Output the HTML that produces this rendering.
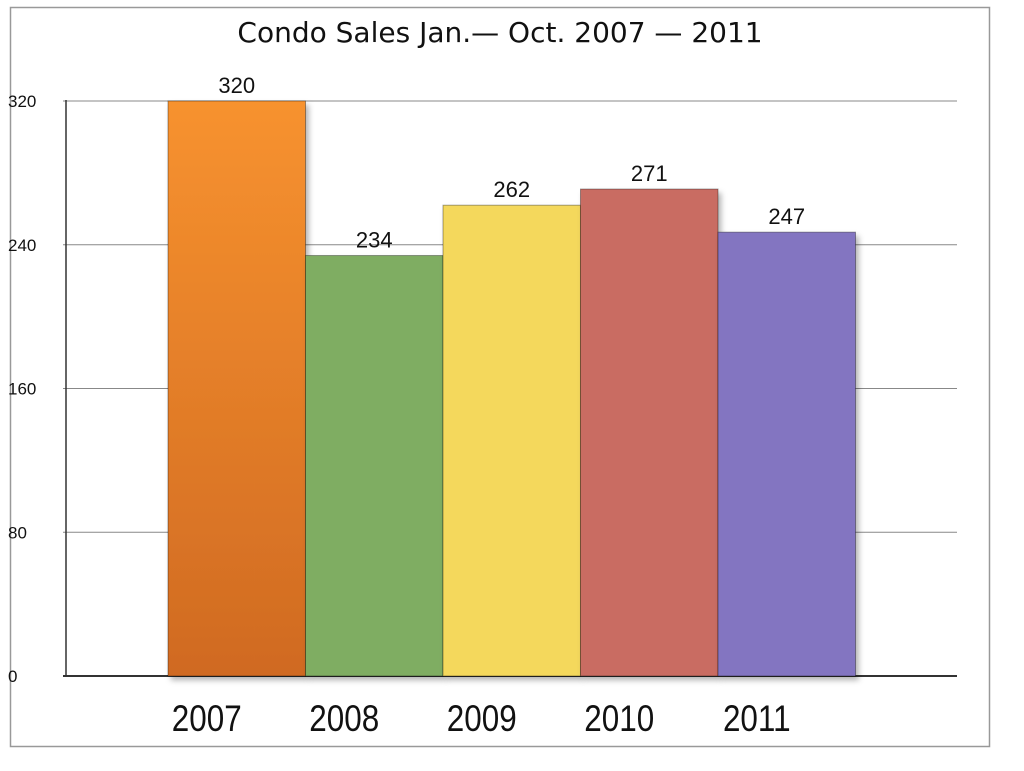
<!DOCTYPE html>
<html><head><meta charset="utf-8"><style>
body{margin:0;background:#fff;width:1024px;height:766px;overflow:hidden}
svg text{font-family:"Liberation Sans",sans-serif}
</style></head><body>
<svg width="1024" height="766">
<defs>
<linearGradient id="g2007" x1="0" y1="0" x2="0" y2="1"><stop offset="0" stop-color="#f7922f"/><stop offset="1" stop-color="#d06a22"/></linearGradient>
<filter id="sh" x="-10%" y="-10%" width="130%" height="130%"><feDropShadow dx="3" dy="4" stdDeviation="3" flood-color="#000" flood-opacity="0.3"/></filter>
</defs>
<rect x="10.5" y="7.5" width="979" height="739" fill="#fff" stroke="#999" stroke-width="1.5"/>
<text x="500" y="42" text-anchor="middle" font-size="28" fill="#111" style="font-family:'DejaVu Sans',sans-serif">Condo Sales Jan.— Oct. 2007 — 2011</text>
<g id="grid"></g>
<g id="bars"></g>
<line x1="66" y1="100" x2="66" y2="676" stroke="#333" stroke-width="1.5"/>
</svg>
<script>
const categories=["2007","2008","2009","2010","2011"];
const values=[320,234,262,271,247];
const yTicks=[0,80,160,240,320];
const colors=["url(#g2007)","#7fad62","#f4d85c","#c96c62","#8375c1"];
const NS="http://www.w3.org/2000/svg";
const y0=676,yTop=101,vmax=320;
function y(v){return y0-(v/vmax)*(y0-yTop);}
const bx0=168,bw=137.5;
function x(i){return bx0+i*bw;}
function mk(t,a,p){const e=document.createElementNS(NS,t);for(const k in a)e.setAttribute(k,a[k]);p.appendChild(e);return e;}
const grid=document.getElementById('grid'),bars=document.getElementById('bars');
yTicks.forEach(t=>{
  const l=mk('line',{x1:63,x2:957,y1:y(t),y2:y(t),stroke:t===0?'#333':'#888','stroke-width':t===0?2:1},grid);
  
  
  const tx=mk('text',{x:8,y:y(t)+6,'font-size':17,fill:'#111'},grid);
  tx.textContent=t;
  
  
});
values.forEach((v,i)=>{
  const r=mk('rect',{x:x(i),y:y(v),width:bw,height:y0-y(v),fill:colors[i],stroke:'rgba(0,0,0,0.35)','stroke-width':1,filter:'url(#sh)'},bars);
  
  
  const vl=mk('text',{x:x(i)+bw/2,y:y(v)-8,'text-anchor':'middle','font-size':22,fill:'#111'},bars);
  vl.textContent=v;
  
  
  const cl=mk('text',{x:0,y:0,'text-anchor':'middle','font-size':37,fill:'#111',transform:`translate(${x(i)+bw/2-30} 731) scale(0.85 1)`},bars);
  cl.textContent=categories[i];
  
  
});
</script>
</body></html>
